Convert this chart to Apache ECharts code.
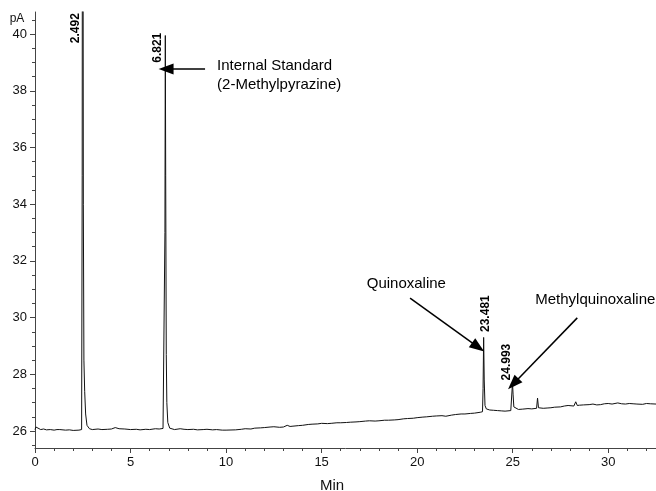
<!DOCTYPE html>
<html><head><meta charset="utf-8">
<script src="https://cdn.jsdelivr.net/npm/echarts@6/dist/echarts.min.js"></script>
<style>html,body{margin:0;padding:0;background:#fff}#c{width:656px;height:491px}</style>
</head><body><div id="c"></div>
<script>
// Retention time (min)
const times = [
  0, 0.05, 0.12, 0.3, 0.45, 0.6, 0.8, 1.0, 1.15, 1.3, 1.6, 1.8, 2.0, 2.3, 2.44,
  2.47, 2.49, 2.50, 2.53, 2.56, 2.6, 2.65, 2.72, 2.85, 3.0, 3.3, 3.5, 3.8, 4.0, 4.2, 4.4, 4.7, 5.0, 5.3, 5.5, 5.8, 6.0, 6.3, 6.5, 6.7, 6.78,
  6.80, 6.82, 6.84, 6.87, 6.9, 6.95, 7.05, 7.3, 7.6, 7.8, 8.0, 8.3, 8.5, 8.8, 9.0, 9.3, 9.5, 9.8, 10.0, 10.5, 10.8, 11.0, 11.3, 11.5, 11.8, 12.0, 12.3, 12.5, 12.8, 13.0, 13.2, 13.35, 13.5,
  13.8, 14.0, 14.3, 14.5, 14.8, 15.0, 15.3, 15.5, 15.8, 16.0, 16.3, 16.5, 16.8, 17.0, 17.3, 17.5, 17.8, 18.0, 18.3, 18.5, 18.8, 19.0, 19.3, 19.5, 19.8, 20.0, 20.3, 20.5, 20.8, 21.0, 21.3, 21.5, 21.8, 22.0, 22.3, 22.5, 22.8, 23.0, 23.3, 23.42,
  23.45, 23.48, 23.51, 23.55, 23.62, 23.8, 24.0, 24.2, 24.4, 24.6, 24.9, 24.96,
  24.99, 25.02, 25.06, 25.15, 25.3, 25.5, 25.8, 26.0, 26.25, 26.3, 26.35, 26.6, 26.8, 27.0, 27.2, 27.5, 27.7, 27.9, 28.2, 28.3, 28.38, 28.5, 28.7,
  29.0, 29.2, 29.4, 29.6, 29.8, 30.0, 30.2, 30.5, 30.7, 30.9, 31.1, 31.3, 31.5, 31.8, 32.0, 32.2, 32.5
];
// Detector signal (pA)
const signal = [
  26.05, 26.14, 26.08, 26.05, 26.07, 26.04, 26.05, 26.03, 26.05, 26.05, 26.03, 26.04, 26.02, 26.03, 26.05,
  35.0, 60.0, 60.0, 34.0, 28.5, 27.4, 26.6, 26.2, 26.08, 26.05, 26.07, 26.05, 26.06, 26.07, 26.12, 26.08, 26.07, 26.05, 26.06, 26.04, 26.06, 26.05, 26.08, 26.07, 26.09, 26.1,
  33.0, 39.95, 35.0, 28.7, 27.0, 26.3, 26.1, 26.05, 26.08, 26.06, 26.05, 26.06, 26.04, 26.05, 26.06, 26.04, 26.05, 26.03, 26.03, 26.04, 26.06, 26.08, 26.07, 26.1, 26.11, 26.12, 26.14, 26.15, 26.13, 26.14, 26.2, 26.16, 26.17,
  26.19, 26.2, 26.23, 26.24, 26.25, 26.27, 26.26, 26.27, 26.29, 26.29, 26.3, 26.31, 26.32, 26.33, 26.35, 26.36, 26.35, 26.36, 26.38, 26.38, 26.39, 26.4, 26.43, 26.44, 26.45, 26.47, 26.49, 26.5, 26.52, 26.53, 26.54, 26.52, 26.56, 26.58, 26.6, 26.6, 26.62, 26.63, 26.66, 26.68,
  27.5, 29.3, 27.8, 26.9, 26.78, 26.74, 26.73, 26.72, 26.71, 26.7, 26.72, 26.75,
  27.7, 27.3, 26.85, 26.78, 26.76, 26.77, 26.79, 26.78, 26.8, 27.16, 26.82, 26.8, 26.81, 26.82, 26.84, 26.85, 26.88, 26.9, 26.88, 27.03, 26.9, 26.91, 26.92,
  26.93, 26.95, 26.92, 26.93, 26.96, 26.97, 26.95, 26.99, 26.96, 26.95, 26.97, 26.96, 26.95, 26.94, 26.97, 26.96, 26.95
];
const yTickLabels = [26, 28, 30, 32, 34, 36, 38, 40];
const yMinorTicks = [25.5, 26.5, 27, 27.5, 28.5, 29, 29.5, 30.5, 31, 31.5, 32.5, 33, 33.5, 34.5, 35, 35.5, 36.5, 37, 37.5, 38.5, 39, 39.5, 40.5];
const xTickLabels = [0, 5, 10, 15, 20, 25, 30];
const xMinorTicks = [1,2,3,4,6,7,8,9,11,12,13,14,16,17,18,19,21,22,23,24,26,27,28,29,31,32];
// Peak retention labels and where they sit (data coords of label centre)
const peakLabels = ['2.492', '6.821', '23.481', '24.993'];
const peakLabelAt = [[2.15, 40.21], [6.44, 39.52], [23.59, 30.14], [24.71, 28.43]];
// Compound notes (data coords of left/middle of text)
const notes = ['Internal Standard', '(2-Methylpyrazine)', 'Quinoxaline', 'Methylquinoxaline'];
const noteAt = [[9.53, 38.87], [9.53, 38.20], [17.36, 31.18], [26.18, 30.62]];
// Arrows [from, to]
const arrows = [
  [[8.9, 38.77], [6.86, 38.77]],
  [[19.63, 30.69], [23.19, 28.96]],
  [[28.38, 29.99], [25.03, 27.66]]
];

const FONT = '"Liberation Sans", Arial, sans-serif';
const seriesData = times.map((t, i) => [t, signal[i]]);

const chart = echarts.init(document.getElementById('c'), null, {renderer: 'canvas'});
const axisCol = '#444';
chart.setOption({
  animation: false,
  grid: {left: 35, right: 0, top: 12, bottom: 43, containLabel: false},
  xAxis: [
    {type: 'value', min: 0, max: 32.5, gridIndex: 0,
     axisLine: {show: true, lineStyle: {color: axisCol, width: 1}},
     axisTick: {show: true, length: 5, customValues: xTickLabels, lineStyle: {color: axisCol}},
     axisLabel: {show: true, customValues: xTickLabels, margin: 8, color: '#111', fontSize: 13, fontFamily: FONT},
     splitLine: {show: false}},
    {type: 'value', min: 0, max: 32.5, gridIndex: 0, position: 'bottom',
     axisLine: {show: false},
     axisTick: {show: true, length: 3, customValues: xMinorTicks, lineStyle: {color: axisCol}},
     axisLabel: {show: false}, splitLine: {show: false}}
  ],
  yAxis: [
    {type: 'value', min: 25.4, max: 40.78, gridIndex: 0,
     axisLine: {show: true, lineStyle: {color: axisCol, width: 1}},
     axisTick: {show: true, length: 5, customValues: yTickLabels, lineStyle: {color: axisCol}},
     axisLabel: {show: true, customValues: yTickLabels, margin: 8, color: '#111', fontSize: 13, fontFamily: FONT},
     splitLine: {show: false}},
    {type: 'value', min: 25.4, max: 40.78, gridIndex: 0, position: 'left',
     axisLine: {show: false},
     axisTick: {show: true, length: 3, customValues: yMinorTicks, lineStyle: {color: axisCol}},
     axisLabel: {show: false}, splitLine: {show: false}}
  ],
  series: [{
    type: 'line', xAxisIndex: 0, yAxisIndex: 0, data: seriesData,
    showSymbol: false, symbol: 'none', clip: true,
    lineStyle: {color: '#111', width: 1},
    silent: true,
    markLine: {
      silent: true, animation: false,
      symbol: ['none', 'triangle'], symbolSize: [11, 15],
      lineStyle: {color: '#000', width: 1.5, type: 'solid'},
      label: {show: false},
      data: arrows.map(a => [{coord: a[0]}, {coord: a[1]}])
    }
  }]
});

const toPx = p => chart.convertToPixel({gridIndex: 0}, p);
const graphics = [];
peakLabels.forEach((txt, i) => {
  const p = toPx(peakLabelAt[i]);
  graphics.push({type: 'text', x: p[0], y: p[1], rotation: Math.PI / 2, silent: true,
    style: {text: txt, font: 'bold 12px ' + FONT, fill: '#000', align: 'center', verticalAlign: 'middle'}});
});
notes.forEach((txt, i) => {
  const p = toPx(noteAt[i]);
  graphics.push({type: 'text', x: p[0], y: p[1], silent: true,
    style: {text: txt, font: '15px ' + FONT, fill: '#000', align: 'left', verticalAlign: 'middle'}});
});
graphics.push({type: 'text', x: 17, y: 19, silent: true,
  style: {text: 'pA', font: '12px ' + FONT, fill: '#111', align: 'center', verticalAlign: 'middle'}});
graphics.push({type: 'text', x: 332, y: 486, silent: true,
  style: {text: 'Min', font: '15px ' + FONT, fill: '#111', align: 'center', verticalAlign: 'middle'}});
chart.setOption({graphic: graphics});
</script>
</body></html>
